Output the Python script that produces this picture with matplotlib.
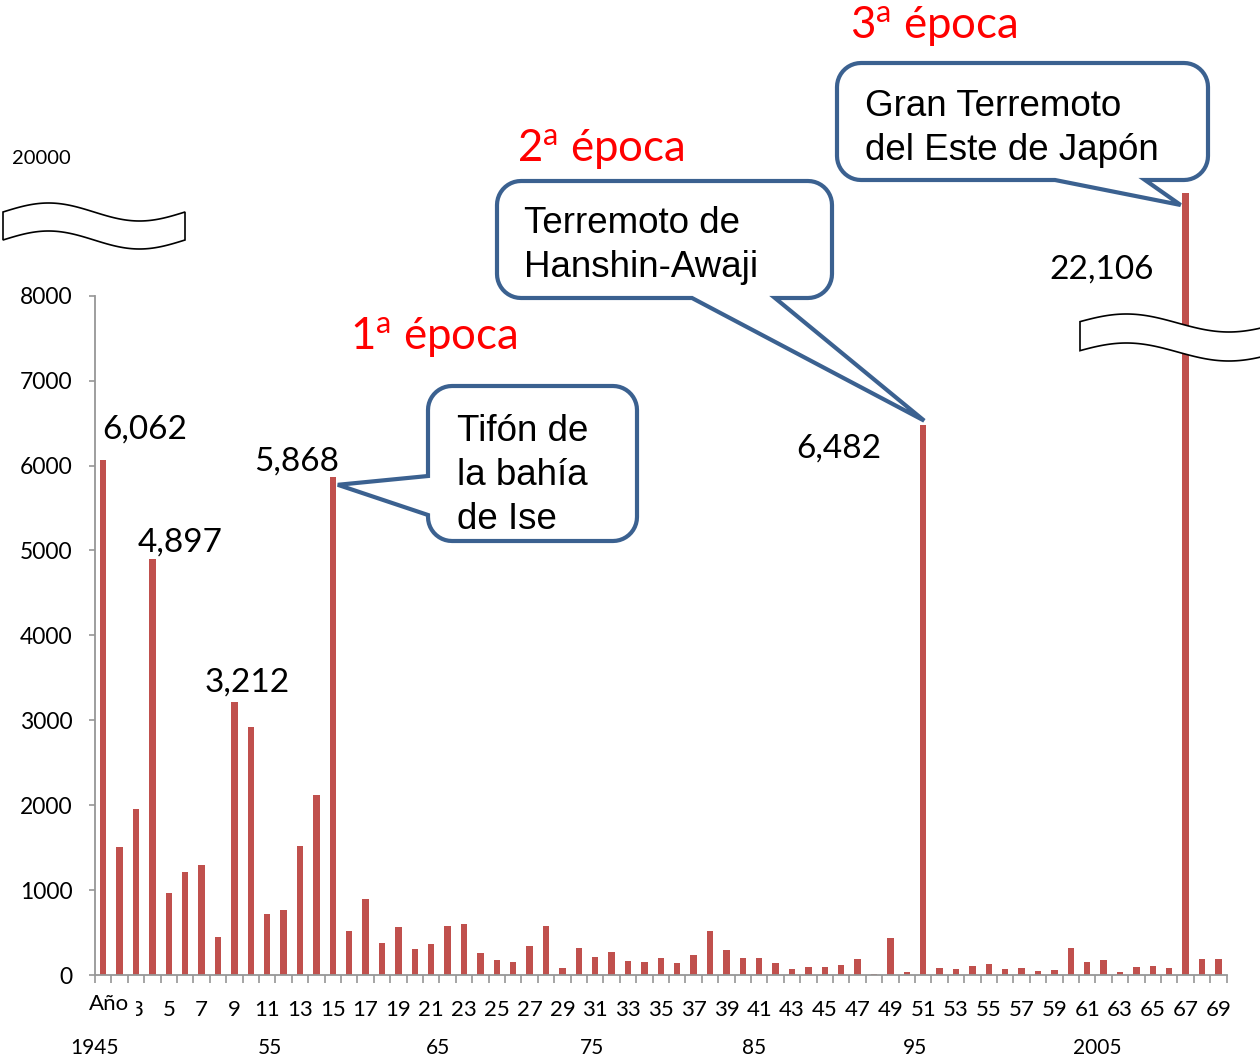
import numpy as np
import matplotlib
matplotlib.use("Agg")
import matplotlib.pyplot as plt
from matplotlib.path import Path
from matplotlib.patches import PathPatch
from matplotlib.transforms import blended_transform_factory

plt.rcParams["mathtext.fontset"] = "custom"
plt.rcParams["mathtext.rm"] = "Lato"
plt.rcParams["mathtext.it"] = "Lato:italic"
plt.rcParams["mathtext.bf"] = "Lato:bold"

# ---------------- data ----------------
years = list(range(1945, 2014))
victims = [6062, 1504, 1950, 4897, 968, 1210, 1290, 445, 3212, 2926,
           724, 765, 1515, 2120, 5868, 524, 900, 374, 571, 303,
           362, 575, 606, 256, 181, 157, 346, 583, 83, 323,
           209, 268, 169, 150, 205, 142, 232, 524, 299, 197,
           197, 142, 67, 91, 91, 122, 185, 16, 433, 31,
           6482, 79, 67, 102, 134, 75, 87, 43, 55, 323,
           150, 173, 31, 98, 110, 87, 22106, 185, 185]
index = list(range(1, len(years) + 1))
tick_labels = [str(i) for i in index[::2]]
decade_years = [1945, 1955, 1965, 1975, 1985, 1995, 2005]
decade_labels = ["1945", "55", "65", "75", "85", "95", "2005"]
yticks = [0, 1000, 2000, 3000, 4000, 5000, 6000, 7000, 8000]
labelled = {1945: "6,062", 1948: "4,897", 1953: "3,212", 1959: "5,868",
            1995: "6,482", 2011: "22,106"}
callouts = ["Tifón de\nla bahía\nde Ise", "Terremoto de\nHanshin-Awaji",
            "Gran Terremoto\ndel Este de Japón"]
epochs = [r"1$^{\mathrm{a}}$ época", r"2$^{\mathrm{a}}$ época", r"3$^{\mathrm{a}}$ época"]

# ---------------- figure ----------------
W, H = 1260, 1061
fig = plt.figure(figsize=(W / 100, H / 100), dpi=100)
fig.patch.set_facecolor("white")
ax = fig.add_axes([95 / W, 86 / H, (69 * 16.4) / W, 975 / H])
ax.patch.set_alpha(0)

BREAK = 8000
C = 0.08585


def fwd(y):
    y = np.asarray(y, dtype=float)
    return np.where(y <= BREAK, y, BREAK + (y - BREAK) * C)


def inv(y):
    y = np.asarray(y, dtype=float)
    return np.where(y <= BREAK, y, BREAK + (y - BREAK) / C)


ax.set_yscale("function", functions=(fwd, inv))
ax.bar(index, victims, width=0.4, color="#C0504D", zorder=2)
ax.set_xlim(0.5, 69.5)
ax.set_ylim(0, 48583)

for s in ["top", "right"]:
    ax.spines[s].set_visible(False)
gray = "#969696"
ax.spines["left"].set_bounds(0, 8000)
ax.spines["left"].set_color(gray)
ax.spines["bottom"].set_color(gray)
ax.spines["left"].set_linewidth(1.3)
ax.spines["bottom"].set_linewidth(1.3)

ax.set_yticks(yticks)
ax.set_yticklabels([str(v) for v in yticks])
ax.yaxis.set_minor_locator(matplotlib.ticker.NullLocator())
ax.tick_params(axis="y", direction="out", length=4.3, width=1.2, color=gray,
               pad=12, labelsize=16.5)
for lab in ax.get_yticklabels():
    lab.set_fontfamily("Lato")

ax.set_xticks(np.arange(0.5, 70, 1.0))
ax.set_xticklabels([])
ax.set_xticks(index[::2], minor=True)
ax.set_xticklabels(tick_labels, minor=True)
ax.tick_params(axis="x", which="major", direction="out", length=6, width=1.2,
               color=gray)
ax.tick_params(axis="x", which="minor", length=0, pad=18, labelsize=16)
for lab in ax.get_xticklabels(minor=True):
    lab.set_fontfamily("Lato")

trans_x = blended_transform_factory(ax.transData, fig.transFigure)
decade_shift = [-9, 3, 7, -3, -5, -8, 10]
for yr, lab, sh in zip(decade_years, decade_labels, decade_shift):
    ax.annotate(lab, xy=(yr - 1944, 1 - 1048 / H), xycoords=trans_x,
                xytext=(sh, 0), textcoords="offset pixels", ha="center",
                va="center", fontsize=15, family="Lato", annotation_clip=False)

fig.text(109 / W, 1 - 1004 / H, "Año", ha="center", va="center", fontsize=16,
         family="Lato", zorder=5,
         bbox=dict(boxstyle="square,pad=0.32", fc="white", ec="none"))
fig.text(41 / W, 1 - 158 / H, "20000", ha="center", va="center", fontsize=14.5,
         family="Lato")

# value labels
offsets = {1945: (-1, 31, "left"), 1948: (-15, 17, "left"), 1953: (-30, 20, "left"),
           1959: (6, 15, "right"), 1995: (-42, -24, "right"), 2011: (-32, -77, "right")}
for yr, txt in labelled.items():
    i = years.index(yr)
    dx, dy, ha = offsets[yr]
    ax.annotate(txt, xy=(index[i], victims[i]), xytext=(dx, dy),
                textcoords="offset pixels", ha=ha, va="center", fontsize=24,
                family="Lato", zorder=4)

# ---------------- helpers (pixel coords, y down) ----------------
def to_fig(pts):
    return [(x / W, 1 - y / H) for x, y in pts]


def data_px(xv, yv):
    d = ax.transData.transform((xv, yv))
    return d[0], H - d[1]


def arc(cx, cy, r, a0, a1, n=12):
    t = np.radians(np.linspace(a0, a1, n))
    return [(cx + r * np.cos(a), cy + r * np.sin(a)) for a in t]


def callout(x0, y0, x1, y1, r, side, b1, b2, tip):
    pts = []
    pts += arc(x1 - r, y0 + r, r, -90, 0)
    pts += arc(x1 - r, y1 - r, r, 0, 90)
    if side == "bottom":
        pts += [(b2, y1), tip, (b1, y1)]
    pts += arc(x0 + r, y1 - r, r, 90, 180)
    if side == "left":
        pts += [(x0, b2), tip, (x0, b1)]
    pts += arc(x0 + r, y0 + r, r, 180, 270)
    pts.append(pts[0])
    codes = [Path.MOVETO] + [Path.LINETO] * (len(pts) - 2) + [Path.CLOSEPOLY]
    p = PathPatch(Path(to_fig(pts), codes), transform=fig.transFigure,
                  fc="white", ec="#3B6190", lw=3.0, joinstyle="miter", zorder=2)
    fig.add_artist(p)


def ribbon(xl, xr, yc, amp, period, phase, thick):
    xs = np.linspace(xl, xr, 80)
    top = yc - amp * np.sin(2 * np.pi * (xs - xl) / period + phase)
    pts = list(zip(xs, top)) + list(zip(xs[::-1], (top + thick)[::-1]))
    pts.append(pts[0])
    codes = [Path.MOVETO] + [Path.LINETO] * (len(pts) - 2) + [Path.CLOSEPOLY]
    fig.add_artist(PathPatch(Path(to_fig(pts), codes), transform=fig.transFigure,
                             fc="white", ec="black", lw=1.2, zorder=1.5))


fig.canvas.draw()

# axis break symbols
ribbon(3, 185, 212, 9, 182, 0.0, 28)
ribbon(1080, 1290, 323, 9, 205, 0.15, 29)

# callouts
tx, ty = data_px(years.index(1959) + 1, victims[years.index(1959)])
callout(428, 386, 637, 541, 24, "left", 476, 515, (tx + 5, ty + 8))
tx, ty = data_px(years.index(1995) + 1, victims[years.index(1995)])
callout(497, 181, 832, 298, 24, "bottom", 692, 775, (tx + 1, ty - 4))
tx, ty = data_px(years.index(2011) + 1, victims[years.index(2011)])
callout(837, 63, 1208, 180, 24, "bottom", 1055, 1145, (tx - 5, ty + 12))

fig.text(457 / W, 1 - 475.5 / H, callouts[0], ha="left", va="center",
         fontsize=26.5, family="Liberation Sans", linespacing=1.33, zorder=3)
fig.text(524 / W, 1 - 245.5 / H, callouts[1], ha="left", va="center",
         fontsize=26.5, family="Liberation Sans", linespacing=1.33, zorder=3)
fig.text(865 / W, 1 - 128.5 / H, callouts[2], ha="left", va="center",
         fontsize=26.5, family="Liberation Sans", linespacing=1.33, zorder=3)

for txt, (x, y) in zip(epochs, [(350, 338), (517, 150), (850, 27)]):
    fig.text(x / W, 1 - y / H, txt, ha="left", va="center", fontsize=31.5,
             family="Lato", color="#FF0000", zorder=3)

fig.savefig("out.png", dpi=100)
